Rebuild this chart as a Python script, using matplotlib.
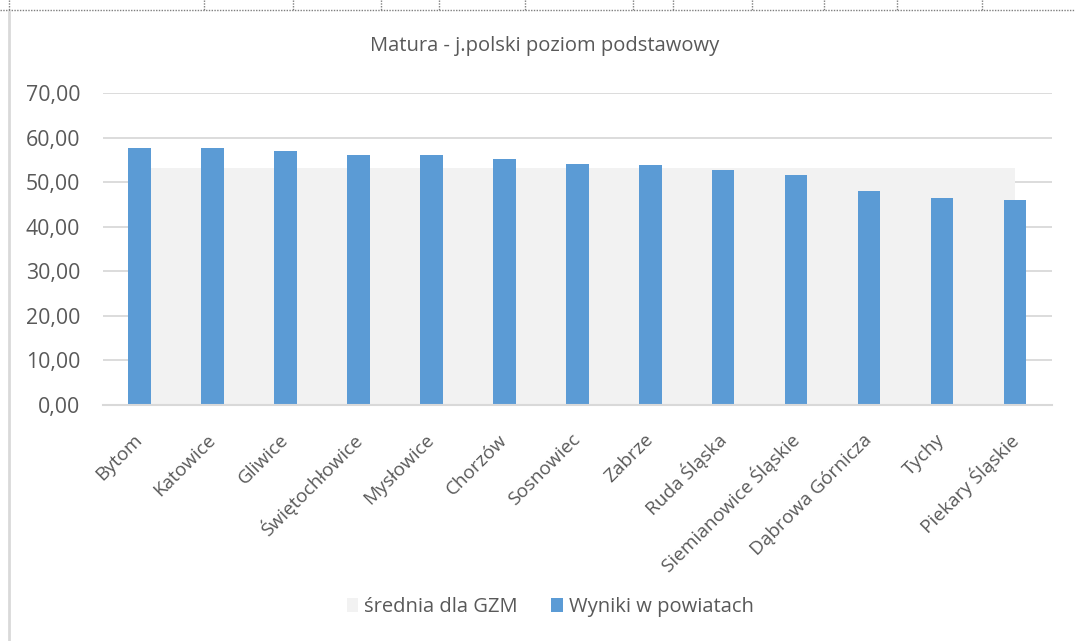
import matplotlib
matplotlib.use("Agg")
import matplotlib.pyplot as plt
from matplotlib.lines import Line2D
from matplotlib.patches import Patch
import numpy as np

# Wyniki matury z j. polskiego (poziom podstawowy) w powiatach GZM
powiaty = [
    "Bytom", "Katowice", "Gliwice", "Świętochłowice", "Mysłowice", "Chorzów",
    "Sosnowiec", "Zabrze", "Ruda Śląska", "Siemianowice Śląskie",
    "Dąbrowa Górnicza", "Tychy", "Piekary Śląskie",
]
wyniki = [57.7, 57.6, 56.9, 56.0, 56.0, 55.1, 54.0, 53.9, 52.7, 51.5, 48.0, 46.4, 46.0]
srednia_gzm = [53.2] * len(powiaty)

TEXT = "#595959"
GRID = "#d9d9d9"
BAR = "#5b9bd5"
AREA = "#f2f2f2"

plt.rcParams["font.family"] = ["Open Sans", "DejaVu Sans"]

W, H = 1075, 641
fig = plt.figure(figsize=(W / 100, H / 100), dpi=100)

# spreadsheet cell borders behind the chart
for xp in [9, 204, 293, 381, 439, 525, 633, 673, 752, 824, 897, 982]:
    fig.add_artist(Line2D([xp / W, xp / W], [1, 1 - 10 / H], color="#7f7f7f",
                          lw=1, ls=(0, (1, 1)), transform=fig.transFigure))
fig.add_artist(Line2D([0, 1], [1 - 10 / H, 1 - 10 / H], color="#7f7f7f",
                      lw=1, ls=(0, (1, 1)), transform=fig.transFigure))
fig.add_artist(Line2D([8.5 / W, 8.5 / W], [0, 1 - 12 / H], color=GRID,
                      lw=2, transform=fig.transFigure))

ax = fig.add_axes([103 / W, (H - 405) / H, 948.5 / W, 312 / H])
x = np.arange(len(powiaty))

ax.fill_between(x, srednia_gzm, color=AREA, lw=0, zorder=2)
ax.bar(x, wyniki, width=0.31, color=BAR, zorder=3)

ax.set_xlim(-0.5, len(powiaty) - 0.5)
ax.set_ylim(0, 70)
ax.set_yticks(np.arange(0, 71, 10))
ax.set_yticklabels([f"{v:.2f}".replace(".", ",") for v in np.arange(0, 71, 10)])
ax.yaxis.grid(True, color=GRID, lw=1.3, zorder=1)
ax.set_axisbelow(True)
for side in ["top", "right", "left"]:
    ax.spines[side].set_visible(False)
ax.spines["bottom"].set_color(GRID)
ax.spines["bottom"].set_linewidth(1.5)
ax.spines["bottom"].set_zorder(4)
ax.tick_params(axis="y", length=0, pad=16.5, labelsize=15.3, labelcolor=TEXT)
ax.tick_params(axis="x", length=0, pad=23, labelsize=13.7, labelcolor=TEXT)
ax.set_xticks(x)
ax.set_xticklabels(powiaty, rotation=45, ha="right", va="center",
                   rotation_mode="anchor")

fig.text(545 / W, 1 - 46 / H, "Matura - j.polski poziom podstawowy",
         ha="center", va="center", fontsize=14.5, color=TEXT)

handles = [Patch(facecolor=AREA, edgecolor="none", label="średnia dla GZM"),
           Patch(facecolor=BAR, edgecolor="none", label="Wyniki w powiatach")]
fig.legend(handles=handles, loc="center", bbox_to_anchor=(550 / W, 1 - 607 / H),
           ncol=2, frameon=False, fontsize=14.5, labelcolor=TEXT,
           handlelength=0.55, handleheight=0.65, handletextpad=0.3, columnspacing=1.7)

fig.savefig("out.png", dpi=100)
